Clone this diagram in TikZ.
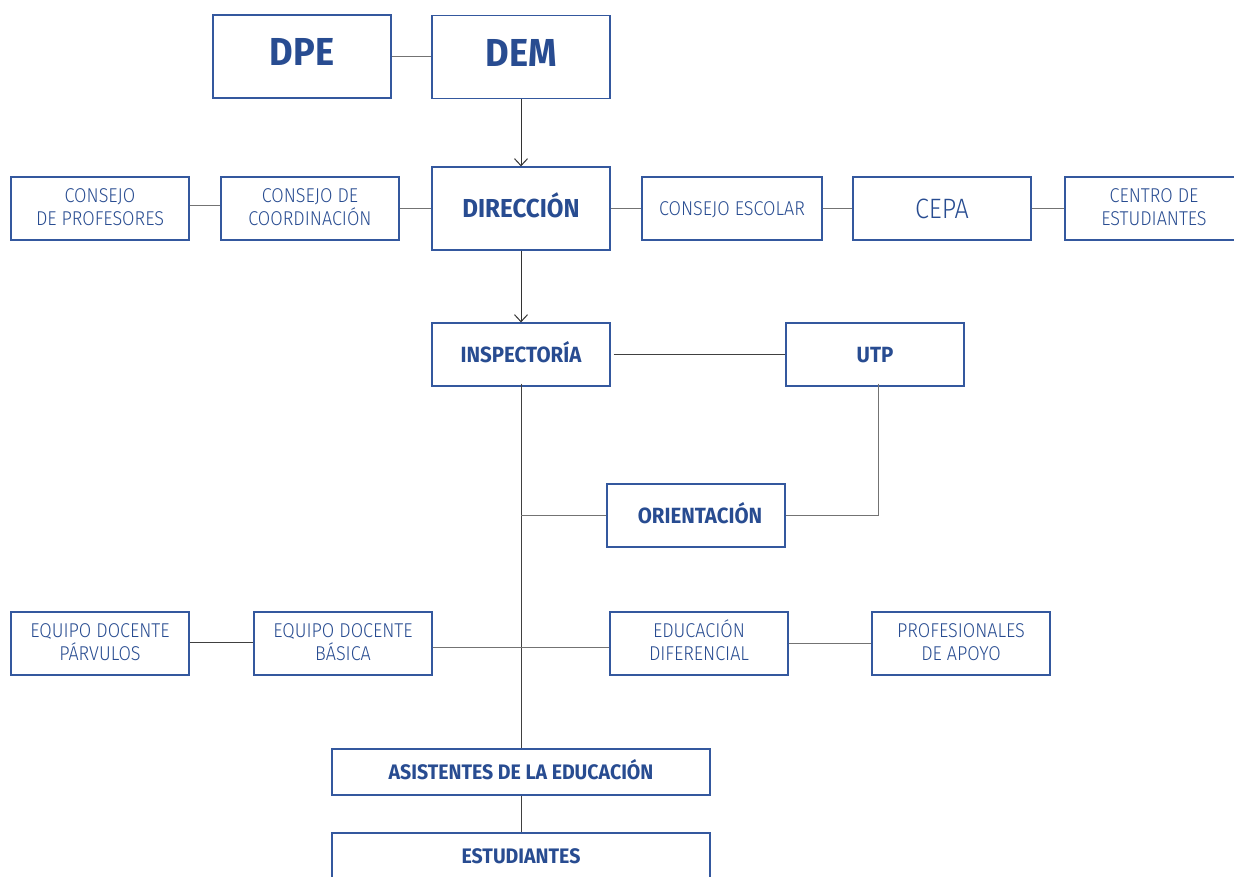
\documentclass[tikz,border=0pt]{standalone}
\usepackage{fontspec}
\setmainfont{Fira Sans}[UprightFont={* Light},BoldFont={* Bold},UprightFeatures={FakeStretch=0.9},BoldFeatures={FakeStretch=0.93}]
\usetikzlibrary{arrows.meta}
\definecolor{boxblue}{RGB}{52,88,158}
\definecolor{txtblue}{RGB}{40,76,145}
\newcommand{\twolines}[2]{\raisebox{0pt}[37.3pt][3pt]{\vbox{\baselineskip=23.5pt\lineskiplimit=-20pt\halign{\hfil##\hfil\cr #1\cr #2\cr}}}}
\tikzset{
  box/.style={draw=boxblue,line width=1.2pt,fill=white,inner sep=0pt,text=txtblue,
    minimum width=178pt,minimum height=63pt,font=\fontsize{20}{23.5}\selectfont},
  reg/.style={box,text height=13.8pt,text depth=0pt},
  bigbox/.style={box,minimum height=83pt,font=\fontsize{39}{42}\selectfont\bfseries,text height=26.9pt,text depth=8pt},
  bbold/.style={box,font=\fontsize{22}{26}\selectfont\bfseries,text height=15.2pt,text depth=0pt},
  conn/.style={draw=black!55,line width=1pt},
  dconn/.style={draw=black!75,line width=1pt},
  arr/.style={dconn,-{Straight Barb[length=7pt,width=13pt,line width=1pt]},draw=black!80}
}
\begin{document}
\begin{tikzpicture}[x=1pt,y=-1pt]
\useasboundingbox (0,0) rectangle (1234,877);
\path[fill=white] (0,0) rectangle (1234,877);
% nodes
\node[bigbox] (dpe) at (302,56.5) {DPE};
\node[bigbox] (dem) at (521,57) {DEM};
\node[bbold,minimum height=83pt,font=\fontsize{26}{30}\selectfont\bfseries,text height=17.9pt] (dir) at (521,208.5) {DIRECCIÓN};
\node[box] (cp) at (100,208.5) {\twolines{CONSEJO}{DE PROFESORES}};
\node[box] (cc) at (310,208.5) {\twolines{CONSEJO DE}{COORDINACIÓN}};
\node[reg,minimum width=180pt] (ce) at (732,208.5) {CONSEJO ESCOLAR};
\node[reg,font=\fontsize{28}{30}\selectfont,text height=19.3pt] (cepa) at (942,208.5) {CEPA};
\node[box] (cent) at (1154,208.5) {\twolines{CENTRO DE}{ESTUDIANTES}};
\node[bbold] (insp) at (521,354.5) {INSPECTORÍA};
\node[bbold] (utp) at (875,354.5) {UTP};
\node[bbold] (ori) at (696,515.5) {\hspace*{8pt}ORIENTACIÓN};
\node[box] (edp) at (100,643.5) {\twolines{EQUIPO DOCENTE}{PÁRVULOS}};
\node[box] (edb) at (343,643.5) {\twolines{EQUIPO DOCENTE}{BÁSICA}};
\node[box] (edd) at (699,643.5) {\twolines{EDUCACIÓN}{DIFERENCIAL}};
\node[box] (pa) at (961,643.5) {\twolines{PROFESIONALES}{DE APOYO}};
\node[bbold,minimum width=378pt,minimum height=46pt,font=\fontsize{21}{24}\selectfont\bfseries,text height=14.5pt] (as) at (521,772) {ASISTENTES DE LA EDUCACIÓN};
\node[bbold,minimum width=378pt,minimum height=46pt,font=\fontsize{21}{24}\selectfont\bfseries,text height=14.5pt] (est) at (521,856) {ESTUDIANTES};
% connectors
\draw[conn] (dpe.east) -- (dpe.east -| dem.west);
\draw[arr] (dem.south) -- (dir.north);
\draw[conn] ([yshift=2.5pt]cp.east) -- ([yshift=2.5pt]cc.west);
\draw[conn] (cc.east) -- (dir.west |- cc.east);
\draw[conn] (dir.east |- ce.west) -- (ce.west);
\draw[conn] (ce.east) -- (cepa.west);
\draw[conn] (cepa.east) -- (cent.west);
\draw[arr] (dir.south) -- (insp.north);
\draw[dconn] ([xshift=3pt]insp.east) -- (utp.west);
\draw[dconn] ([yshift=3pt]insp.south) -- (as.north);
\coordinate (jo) at (insp.south |- ori.west);
\draw[conn] (jo) -- (ori.west);
\coordinate (ju) at ([xshift=3pt,yshift=3pt]utp.south);
\draw[conn] (ju) |- (ori.east);
\draw[dconn] ([yshift=1.5pt]edp.east) -- ([yshift=1.5pt]edb.west);
\draw[conn] ([yshift=-3.5pt]edb.east) -- ([yshift=-3.5pt]edd.west);
\draw[conn] (edd.east) -- (pa.west);
\draw[dconn] (as.south) -- (est.north);
\end{tikzpicture}
\end{document}
